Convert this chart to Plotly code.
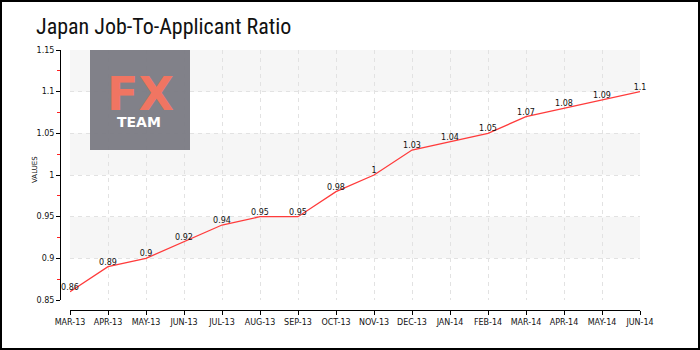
import plotly.graph_objects as go

months = ["MAR-13", "APR-13", "MAY-13", "JUN-13", "JUL-13", "AUG-13", "SEP-13", "OCT-13",
          "NOV-13", "DEC-13", "JAN-14", "FEB-14", "MAR-14", "APR-14", "MAY-14", "JUN-14"]
values = [0.86, 0.89, 0.9, 0.92, 0.94, 0.95, 0.95, 0.98, 1, 1.03, 1.04, 1.05, 1.07, 1.08, 1.09, 1.1]
labels = ["0.86", "0.89", "0.9", "0.92", "0.94", "0.95", "0.95", "0.98", "1", "1.03", "1.04",
          "1.05", "1.07", "1.08", "1.09", "1.1"]
y_ticks = [0.85, 0.9, 0.95, 1.0, 1.05, 1.1, 1.15]
y_tick_text = ["0.85", "0.9", "0.95", "1", "1.05", "1.1", "1.15"]
bands = [(1.1, 1.15), (1.0, 1.05), (0.9, 0.95)]

W, H = 700, 350
px = lambda v: v / W
py = lambda v: 1 - v / H

fig = go.Figure()
fig.add_trace(go.Scatter(
    x=months, y=values, mode="lines+text", text=labels, textposition="top center",
    textfont=dict(family="DejaVu Sans", size=8, color="#111"),
    line=dict(color="#ff3b3b", width=1.3), hoverinfo="skip", cliponaxis=False,
))

shapes = []
for y0, y1 in bands:
    shapes.append(dict(type="rect", xref="x domain", yref="y", x0=0, x1=1, y0=y0, y1=y1,
                       fillcolor="#f6f6f6", line=dict(width=0), layer="below"))
# logo box
shapes.append(dict(type="rect", xref="paper", yref="paper", x0=px(90), x1=px(190),
                   y0=py(150), y1=py(50), fillcolor="#7c7c84", opacity=0.96,
                   line=dict(width=0), layer="above"))
# outer border
shapes.append(dict(type="rect", xref="paper", yref="paper", x0=0, x1=1, y0=0, y1=1,
                   line=dict(color="#000", width=4), layer="above"))

annotations = [
    dict(text="Japan Job-To-Applicant Ratio", xref="paper", yref="paper", x=px(34), y=py(12),
         xanchor="left", yanchor="top", showarrow=False,
         font=dict(family="Liberation Sans Narrow, Roboto Condensed, Liberation Sans", size=22, color="#111")),
    dict(text="VALUES", xref="paper", yref="paper", x=px(35), y=py(170), textangle=-90,
         xanchor="center", yanchor="middle",
         showarrow=False, font=dict(family="DejaVu Sans", size=7, color="#111")),
    dict(text="<b>FX</b>", xref="paper", yref="paper", x=px(140), y=py(94), showarrow=False,
         xanchor="center", yanchor="middle",
         font=dict(family="DejaVu Sans", size=46, color="#f07562")),
    dict(text="<b>TEAM</b>", xref="paper", yref="paper", x=px(139), y=py(122), showarrow=False,
         xanchor="center", yanchor="middle",
         font=dict(family="DejaVu Sans", size=14, color="#ffffff")),
]

fig.update_layout(
    width=W, height=H, margin=dict(l=0, r=0, t=0, b=0, autoexpand=False),
    paper_bgcolor="white", plot_bgcolor="white", showlegend=False,
    shapes=shapes, annotations=annotations,
    xaxis=dict(domain=[px(70), px(640)], range=[0, 15], type="category", automargin=False,
               anchor="free", position=py(310), showline=True, linecolor="#000", linewidth=1,
               ticks="outside", ticklen=4, tickcolor="#000", tickwidth=1,
               showgrid=True, gridcolor="#e2e2e2", griddash="4px,4px", gridwidth=1,
               tickfont=dict(family="DejaVu Sans", size=8, color="#111"), zeroline=False),
    yaxis=dict(domain=[py(300), py(50)], range=[0.85, 1.15], anchor="free", position=px(60),
               automargin=False, tickvals=y_ticks, ticktext=y_tick_text,
               showline=True, linecolor="#000", linewidth=1,
               ticks="outside", ticklen=4, tickcolor="#000", tickwidth=1,
               minor=dict(dtick=0.025, tick0=0.85, ticks="outside", ticklen=3, tickcolor="#ff2020", showgrid=False),
               showgrid=True, gridcolor="#e2e2e2", griddash="4px,4px", gridwidth=1,
               tickfont=dict(family="DejaVu Sans", size=8, color="#111"), zeroline=False),
)

fig.write_html("out.html")
